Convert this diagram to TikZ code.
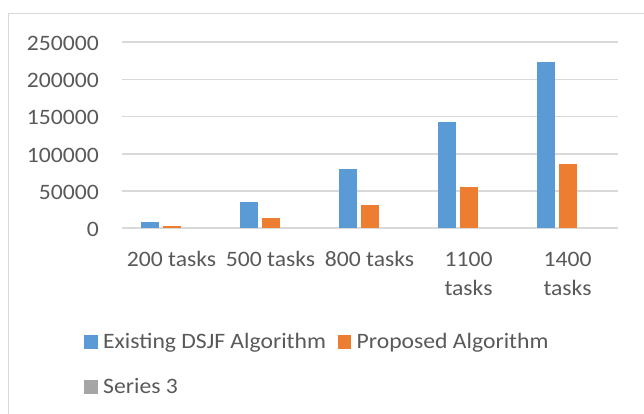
\documentclass[tikz,border=0pt]{standalone}
\usepackage{fontspec}
\setmainfont{Carlito}[FakeStretch=1.075]
\definecolor{exist}{HTML}{5B9BD5}
\definecolor{prop}{HTML}{ED7D31}
\definecolor{serthree}{HTML}{A5A5A5}
\definecolor{lbl}{HTML}{595959}
\definecolor{gridc}{HTML}{D9D9D9}
\tikzset{txt/.style={inner sep=0pt, text=lbl, font=\fontsize{22}{29}\selectfont}}

\begin{document}
\begin{tikzpicture}[x=1pt,y=-1pt]
    \useasboundingbox (0,0) rectangle (644,414);
    \draw[gridc, line width=1.2pt] (8.5,414) -- (8.5,13.5) -- (644,13.5);
    % gridlines and values
    \foreach \v/\n in {0/0,1/50000,2/100000,3/150000,4/200000,5/250000} {
        \draw[gridc, line width=1.6pt] (122,{228-37.14*\v}) -- (618,{228-37.14*\v});
        \node[txt, anchor=base east] (val\v) at (99,{228-37.14*\v+8.4}) {\n};
    }
    % bars (values in thousands)
    \foreach \i/\a/\b [evaluate=\i as \cx using {171.5+99*\i}] in {0/8.1/3.1,1/35/13.5,2/79.5/31,3/142.9/55.3,4/223.7/86.7} {
        \fill[exist] (\cx-30.5,228) rectangle (\cx-13,{228-0.7428*\a});
        \fill[prop] (\cx-8.5,228) rectangle (\cx+9,{228-0.7428*\b});
    }
    % categories (base = last line)
    \foreach \i/\y/\t [evaluate=\i as \cx using {171.5+99*\i}] in {0/266/{200 tasks},1/266/{500 tasks},2/266/{800 tasks},3/295/{1100\\tasks},4/295/{1400\\tasks}}
        \node[txt, anchor=base, align=center] (cat\i) at (\cx,\y) {\t};
    % legend
    \fill[exist] (84,335) rectangle (97.7,348.7);
    \node[txt, anchor=base west] (legA) at (103,348.7) {Existing DSJF Algorithm};
    \fill[prop] (337.6,335) rectangle (351.3,348.7);
    \node[txt, anchor=base west] (legB) at (356.5,348.7) {Proposed Algorithm};
    \fill[serthree] (84,380) rectangle (97.7,393.7);
    \node[txt, anchor=base west] (legC) at (103,393.7) {Series 3};
\end{tikzpicture}
\end{document}
